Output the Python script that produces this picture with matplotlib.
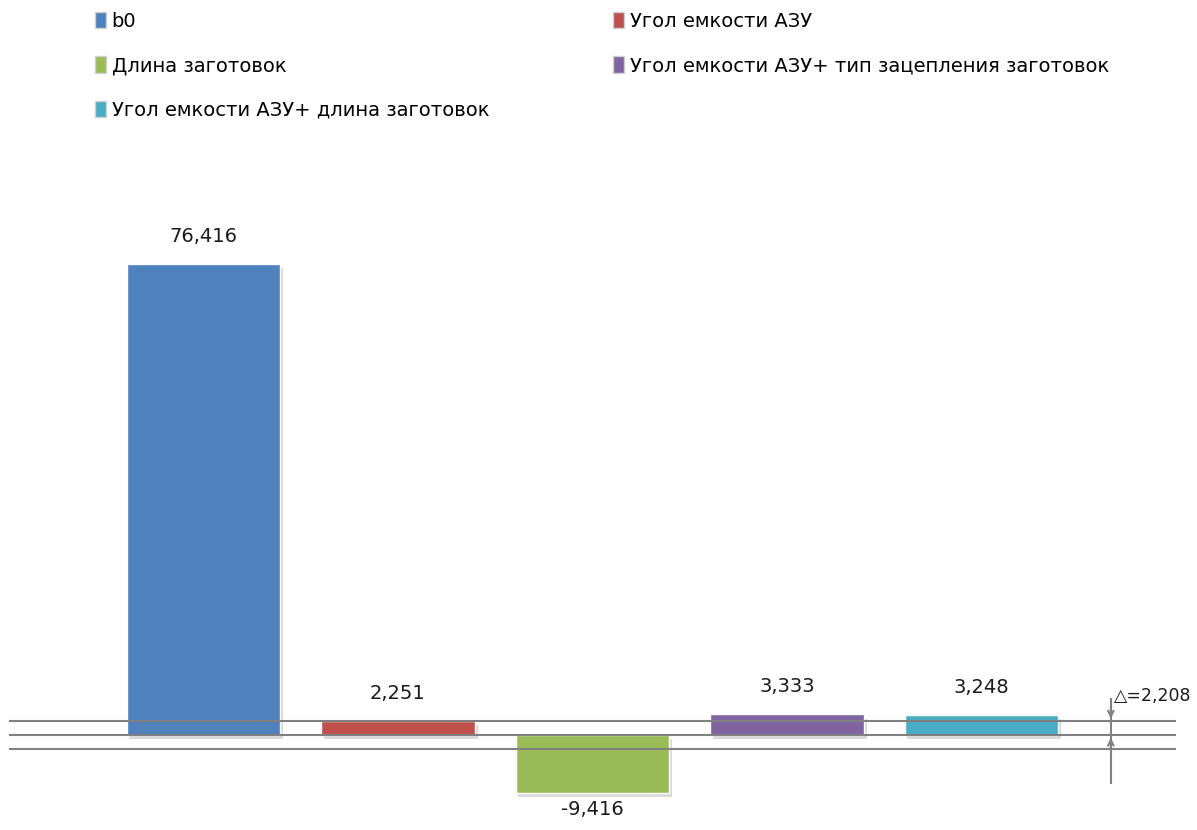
import matplotlib.pyplot as plt
import matplotlib.patheffects as pe
from matplotlib.patches import Patch

# Regression coefficients
labels = ['b0', 'Угол емкости АЗУ', 'Длина заготовок',
          'Угол емкости АЗУ+ тип зацепления заготовок',
          'Угол емкости АЗУ+ длина заготовок']
values = [76.416, 2.251, -9.416, 3.333, 3.248]
value_text = ['76,416', '2,251', '-9,416', '3,333', '3,248']
colors = ['#4F81BD', '#C0504D', '#9BBB59', '#8064A2', '#4BACC6']
delta = 2.208
delta_text = '=2,208'

plt.rcParams['font.family'] = ['DejaVu Sans']

fig = plt.figure(figsize=(11.97, 8.3), dpi=100)
ax = fig.add_axes([0, 0, 1, 1])
ax.set_xlim(-1.046, 5.108)
ax.set_ylim(-15.41, 119.24)
ax.axis('off')

x = range(len(values))
shadow = [pe.SimplePatchShadow(offset=(2, -3), shadow_rgbFace='#a0a0a0', alpha=0.4), pe.Normal()]
bars = ax.bar(x, values, width=0.79, color=colors, edgecolor='white', linewidth=1, zorder=2)
for b in bars:
    b.set_path_effects(shadow)

# significance band around zero
for yv in (delta, 0, -delta):
    ax.axhline(yv, xmin=0.008, xmax=0.982, color='#808080', lw=1.5, zorder=3)

for xi, v, t in zip(x, values, value_text):
    off = 13 if v >= 0 else -5
    ax.annotate(t, (xi, v), xytext=(0, off), textcoords='offset points',
                ha='center', va='bottom' if v >= 0 else 'top', fontsize=14, color='#1a1a1a')

# delta marker
xd = 4.665
ax.plot([xd, xd], [-7.8, 5.8], color='#808080', lw=1.5, zorder=3)
ax.annotate('', xy=(xd, delta), xytext=(xd, delta + 2.6),
            arrowprops=dict(arrowstyle='->', color='#808080', lw=1.5))
ax.annotate('', xy=(xd, 0), xytext=(xd, -2.6),
            arrowprops=dict(arrowstyle='->', color='#808080', lw=1.5))
ax.text(xd + 0.015, 6.3, '\u25b3' + delta_text, fontsize=12.5, ha='left', va='center',
        color='#1a1a1a')

# legend in two columns
handles = [Patch(facecolor=c, edgecolor='#d0d0d0') for c in colors]
order_l = [0, 2, 4]
order_r = [1, 3]
kw = dict(frameon=False, fontsize=14, handlelength=0.55, handleheight=0.9,
          handletextpad=0.3, labelspacing=1.3, borderaxespad=0, loc='upper left')
fig.legend([handles[i] for i in order_l], [labels[i] for i in order_l],
           bbox_to_anchor=(0.073, 0.995), **kw)
fig.legend([handles[i] for i in order_r], [labels[i] for i in order_r],
           bbox_to_anchor=(0.506, 0.995), **kw)

fig.savefig('out.png', dpi=100, facecolor='white')
